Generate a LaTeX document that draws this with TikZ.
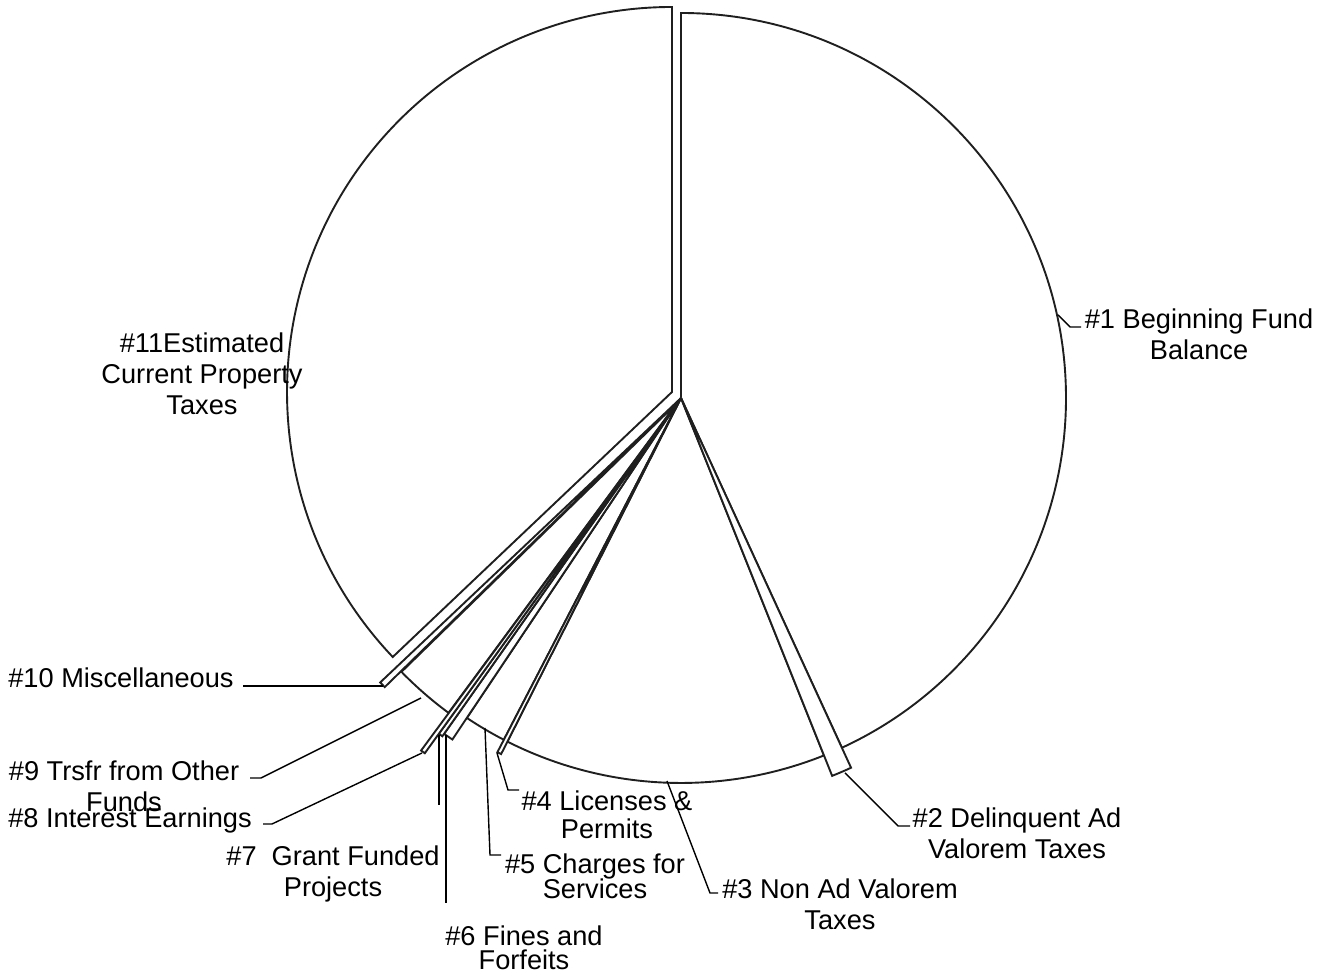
\documentclass[tikz,border=0pt]{standalone}
\usepackage{fontspec}
\setmainfont{Liberation Sans}
\newcommand\mysl[5]{%
  \draw[slice] (#1,#2) -- ++(#3:#5) arc[start angle=#3, end angle=#4, radius=#5] -- cycle;}
\begin{document}
\begin{tikzpicture}[x=0.5pt,y=0.5pt,
  slice/.style={draw=black!88, line width=0.95pt, fill=white, line join=miter},
  leader/.style={draw=black, line width=0.7pt},
  lbl/.style={font=\fontsize{13.6}{15.5}\selectfont, align=center, inner sep=0pt, anchor=north}]
\useasboundingbox (0,0) rectangle (1328,972);
% large slices
\mysl{672}{580}{-136.5}{-270}{385}   % 11
\mysl{681}{574}{90}{-65.3}{385}      % 1
\mysl{681}{574}{-68.2}{-116.8}{385}  % 3
\mysl{677}{569}{-126.4}{-135.7}{385} % 9
\mysl{681}{574}{-117.4}{-123.8}{385} % 5
% slivers
\mysl{681}{574}{-65.3}{-68.2}{407}   % 2
\mysl{681}{574}{-116.8}{-117.4}{399} % 4
\mysl{681}{574}{-123.8}{-125.2}{411} % 6
\mysl{681}{574}{-125.2}{-125.8}{414} % 7
\mysl{681}{574}{-125.8}{-126.4}{438} % 8
\mysl{681}{574}{-135.7}{-136.6}{414} % 10
% labels
\node[lbl] (t1) at (1199,664) {\#1 Beginning Fund\\Balance};
\node[lbl] (t11) at (202,640) {\#11Estimated\\Current Property\\Taxes};
\node[lbl] (t2) at (1017,165) {\#2 Delinquent Ad\\Valorem Taxes};
\node[lbl] (t3) at (840,94) {\#3 Non Ad Valorem\\Taxes};
\node[lbl] (t4) at (607,182) {\#4 Licenses \&\\[-1.5pt]Permits};
\node[lbl] (t5) at (595,119) {\#5 Charges for\\[-3pt]Services};
\node[lbl] (t6) at (524,47) {\#6 Fines and\\[-3.5pt]Forfeits};
\node[lbl] (t7) at (333,127) {\#7\ \ Grant Funded\\Projects};
\node[lbl] (t8) at (130,165) {\#8 Interest Earnings};
\node[lbl] (t9) at (124,212) {\#9 Trsfr from Other\\Funds};
\node[lbl] (t10) at (121,305) {\#10 Miscellaneous};
% leader points
\coordinate (a1) at (1058,657); \coordinate (b1) at (1070,645); \coordinate (c1) at (1081,645);
\coordinate (a2) at (845,199);  \coordinate (b2) at (898,146);  \coordinate (c2) at (910,146);
\coordinate (a3) at (667,191);  \coordinate (b3) at (710,79);   \coordinate (c3) at (718,79);
\coordinate (a4) at (497,219);  \coordinate (b4) at (508,182);  \coordinate (c4) at (519,182);
\coordinate (a5) at (485,244);  \coordinate (b5) at (490,117);  \coordinate (c5) at (501,117);
\coordinate (a6) at (446,237);  \coordinate (b6) at (446,69);
\coordinate (a7) at (439,237);  \coordinate (b7) at (439,167);
\coordinate (a8) at (422,219);  \coordinate (b8) at (272,148);  \coordinate (c8) at (263,148);
\coordinate (a9) at (421,274);  \coordinate (b9) at (261,194);  \coordinate (c9) at (250,194);
\coordinate (a10) at (383,286); \coordinate (b10) at (243,286);
\draw[leader] (a1) -- (b1) -- (c1);
\draw[leader] (a2) -- (b2) -- (c2);
\draw[leader] (a3) -- (b3) -- (c3);
\draw[leader] (a4) -- (b4) -- (c4);
\draw[leader] (a5) -- (b5) -- (c5);
\draw[leader] (a6) -- (b6);
\draw[leader] (a7) -- (b7);
\draw[leader] (a8) -- (b8) -- (c8);
\draw[leader] (a9) -- (b9) -- (c9);
\draw[leader] (a10) -- (b10);
\end{tikzpicture}
\end{document}
